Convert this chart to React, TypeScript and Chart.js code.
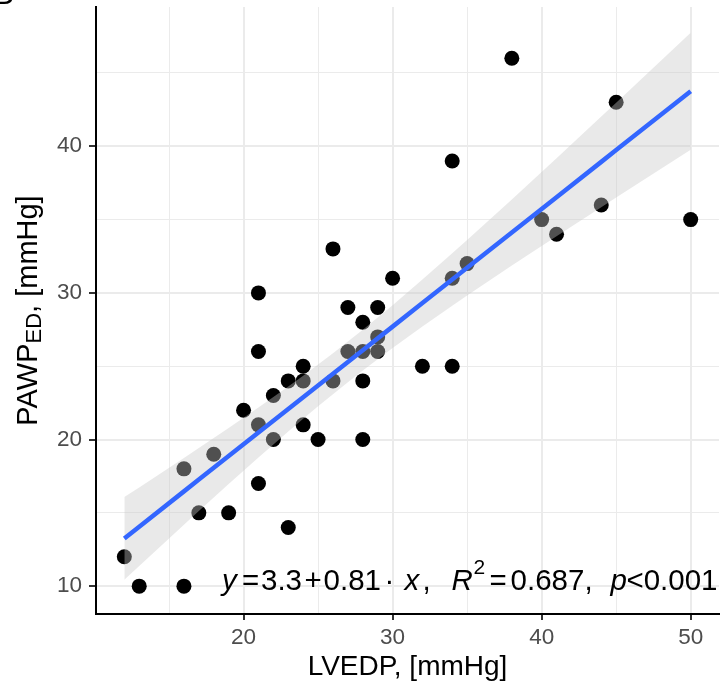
import React, { useEffect, useRef } from 'react';
import { Chart, registerables } from 'chart.js';

Chart.register(...registerables);

// ---- data ----
const lvedp = [12, 13, 16, 16, 17, 18, 19, 20, 21, 21, 21, 21, 22, 22, 23, 23, 24, 24, 24, 25, 26, 26, 27, 27, 28, 28, 28, 28, 29, 29, 29, 30, 32, 34, 34, 34, 35, 38, 40, 41, 44, 45, 50];
const pawp = [12, 10, 10, 18, 15, 19, 15, 22, 30, 26, 21, 17, 23, 20, 24, 14, 25, 24, 21, 20, 33, 24, 29, 26, 28, 26, 24, 20, 29, 27, 26, 31, 25, 39, 31, 25, 32, 46, 35, 34, 36, 43, 35];

const xGridTicks = [15, 20, 25, 30, 35, 40, 45, 50];
const xTickLabels = [20, 30, 40, 50];
const yGridTicks = [10, 15, 20, 25, 30, 35, 40, 45];
const yTickLabels = [10, 20, 30, 40];
const xLimits = [10.1, 51.9];
const yLimits = [8.1, 49.5];

const xTitle = 'LVEDP, [mmHg]';
const yTitleMain = 'PAWP';
const yTitleSub = 'ED';
const yTitleRest = ', [mmHg]';
const panelTag = 'B';
// equation segments: [text, style]
const equationParts: [string, string][] = [
  ['y', 'i'], ['=', 'n'], ['3.3', 'n'], ['+', 'n'], ['0.81', 'n'], ['\u00B7', 'n'], ['x', 'i'], [',', 'n'],
  ['R', 'i'], ['2', 'sup'], ['=', 'n'], ['0.687,', 'n'], ['p', 'i'], ['<0.001', 'n'],
];
// ink gap (px) before each segment
const equationGaps = [0, 4, 4, 4, 4, 8, 11, 4, 23, 2, 6, 6, 19, 1];

const tCrit = 2.0195; // t(0.975, df = n - 2)

const FONT = '"Liberation Sans", Arial, Helvetica, sans-serif';

function fitLinear(xs: number[], ys: number[]) {
  const n = xs.length;
  const mx = xs.reduce((a, b) => a + b, 0) / n;
  const my = ys.reduce((a, b) => a + b, 0) / n;
  let sxx = 0, sxy = 0;
  for (let i = 0; i < n; i++) {
    sxx += (xs[i] - mx) ** 2;
    sxy += (xs[i] - mx) * (ys[i] - my);
  }
  const slope = sxy / sxx;
  const intercept = my - slope * mx;
  let sse = 0;
  for (let i = 0; i < n; i++) sse += (ys[i] - intercept - slope * xs[i]) ** 2;
  const s = Math.sqrt(sse / (n - 2));
  return { n, mx, sxx, slope, intercept, s };
}

const textPlugin = {
  id: 'customText',
  afterDraw(chart: any) {
    const ctx = chart.ctx as CanvasRenderingContext2D;
    const area = chart.chartArea;
    ctx.save();
    ctx.fillStyle = '#000000';
    ctx.textBaseline = 'alphabetic';

    // panel tag (clipped at top)
    ctx.font = `32px ${FONT}`;
    ctx.textAlign = 'right';
    ctx.fillText(panelTag, 14, 4);

    // x title
    ctx.font = `28px ${FONT}`;
    ctx.textAlign = 'center';
    ctx.fillText(xTitle, (area.left + area.right) / 2, 675);

    // y title with subscript
    ctx.textAlign = 'left';
    const mainFont = `29px ${FONT}`;
    const subFont = `22px ${FONT}`;
    ctx.font = mainFont;
    const w1 = ctx.measureText(yTitleMain).width;
    const w3 = ctx.measureText(yTitleRest).width;
    ctx.font = subFont;
    const w2 = ctx.measureText(yTitleSub).width;
    const total = w1 + w2 + w3;
    ctx.save();
    ctx.translate(37, (area.top + area.bottom) / 2);
    ctx.rotate(-Math.PI / 2);
    let x = -total / 2;
    ctx.font = mainFont;
    ctx.fillText(yTitleMain, x, 0);
    x += w1;
    ctx.font = subFont;
    ctx.fillText(yTitleSub, x, 4);
    x += w2;
    ctx.font = mainFont;
    ctx.fillText(yTitleRest, x, 0);
    ctx.restore();

    // regression equation, laid out by ink extents
    let inkRight = 220;
    equationParts.forEach(([t, style], i) => {
      if (style === 'i') ctx.font = `italic 29.5px ${FONT}`;
      else if (style === 'sup') ctx.font = `21px ${FONT}`;
      else ctx.font = `29.5px ${FONT}`;
      const y = style === 'sup' ? 574 : 590;
      const m = ctx.measureText(t);
      const inkLeft = inkRight + equationGaps[i];
      const drawX = inkLeft + m.actualBoundingBoxLeft;
      ctx.fillText(t, drawX, y);
      inkRight = drawX + m.actualBoundingBoxRight;
    });
    ctx.restore();
  },
};

export default function App() {
  const ref = useRef<HTMLCanvasElement | null>(null);

  useEffect(() => {
    if (!ref.current) return;
    const fit = fitLinear(lvedp, pawp);
    const fitXs = Array.from(new Set(lvedp)).sort((a, b) => a - b);
    const pred = (x: number) => fit.intercept + fit.slope * x;
    const half = (x: number) => tCrit * fit.s * Math.sqrt(1 / fit.n + (x - fit.mx) ** 2 / fit.sxx);

    const points = lvedp.map((x, i) => ({ x, y: pawp[i] }));
    const lineData = fitXs.map((x) => ({ x, y: pred(x) }));
    const upper = fitXs.map((x) => ({ x, y: pred(x) + half(x) }));
    const lower = fitXs.map((x) => ({ x, y: pred(x) - half(x) }));

    const tickFont = { family: FONT, size: 22.5 };

    const chart = new Chart(ref.current, {
      type: 'line',
      data: {
        datasets: [
          {
            data: lineData,
            borderColor: '#3366FF',
            borderWidth: 4.5,
            pointRadius: 0,
            fill: false,
            order: 0,
            tension: 0,
          } as any,
          {
            data: upper,
            borderColor: 'rgba(0,0,0,0)',
            borderWidth: 1,
            pointRadius: 0,
            backgroundColor: 'rgba(200,200,200,0.4)',
            fill: '+1',
            order: 1,
          },
          {
            data: lower,
            borderColor: 'rgba(0,0,0,0)',
            borderWidth: 1,
            pointRadius: 0,
            fill: false,
            order: 1,
          },
          {
            data: points,
            showLine: false,
            pointRadius: 7.5,
            pointBorderWidth: 0,
            pointBackgroundColor: '#000000',
            pointBorderColor: '#000000',
            order: 2,
          },
        ],
      },
      options: {
        responsive: false,
        animation: false,
        events: [],
        layout: { autoPadding: false, padding: { top: 7, right: 4, left: 0, bottom: 0 } },
        plugins: { legend: { display: false }, tooltip: { enabled: false } },
        scales: {
          x: {
            type: 'linear',
            min: xLimits[0],
            max: xLimits[1],
            afterBuildTicks: (axis: any) => {
              axis.ticks = xGridTicks.map((v) => ({ value: v }));
            },
            afterFit: (scale: any) => {
              scale.height = 69;
              scale.paddingLeft = 0;
              scale.paddingRight = 0;
            },
            ticks: {
              autoSkip: false,
              maxRotation: 0,
              padding: 4,
              color: '#4d4d4d',
              font: tickFont,
              callback: (v: any) => (xTickLabels.includes(Number(v)) ? String(v) : ''),
            },
            grid: {
              color: '#ebebeb',
              lineWidth: (c: any) => (c.tick && xTickLabels.includes(c.tick.value) ? 2 : 1),
              tickColor: (c: any) => (c.tick && xTickLabels.includes(c.tick.value) ? '#333333' : 'rgba(0,0,0,0)'),
              tickLength: 6,
              tickWidth: 2,
            },
            border: { display: true, color: '#000000', width: 2 },
          },
          y: {
            type: 'linear',
            min: yLimits[0],
            max: yLimits[1],
            afterBuildTicks: (axis: any) => {
              axis.ticks = yGridTicks.map((v) => ({ value: v }));
            },
            afterFit: (scale: any) => {
              scale.width = 96;
              scale.paddingTop = 0;
              scale.paddingBottom = 0;
            },
            ticks: {
              autoSkip: false,
              padding: 7,
              color: '#4d4d4d',
              font: tickFont,
              callback: (v: any) => (yTickLabels.includes(Number(v)) ? String(v) : ''),
            },
            grid: {
              color: '#ebebeb',
              lineWidth: (c: any) => (c.tick && yTickLabels.includes(c.tick.value) ? 2 : 1),
              tickColor: (c: any) => (c.tick && yTickLabels.includes(c.tick.value) ? '#333333' : 'rgba(0,0,0,0)'),
              tickLength: 7,
              tickWidth: 2,
            },
            border: { display: true, color: '#000000', width: 2 },
          },
        },
      } as any,
      plugins: [textPlugin],
    });
    return () => chart.destroy();
  }, []);

  return (
    <div style={{ position: 'absolute', left: 0, top: 0, width: 723, height: 683, background: '#ffffff' }}>
      <canvas ref={ref} width={723} height={683} style={{ display: 'block' }} />
    </div>
  );
}
